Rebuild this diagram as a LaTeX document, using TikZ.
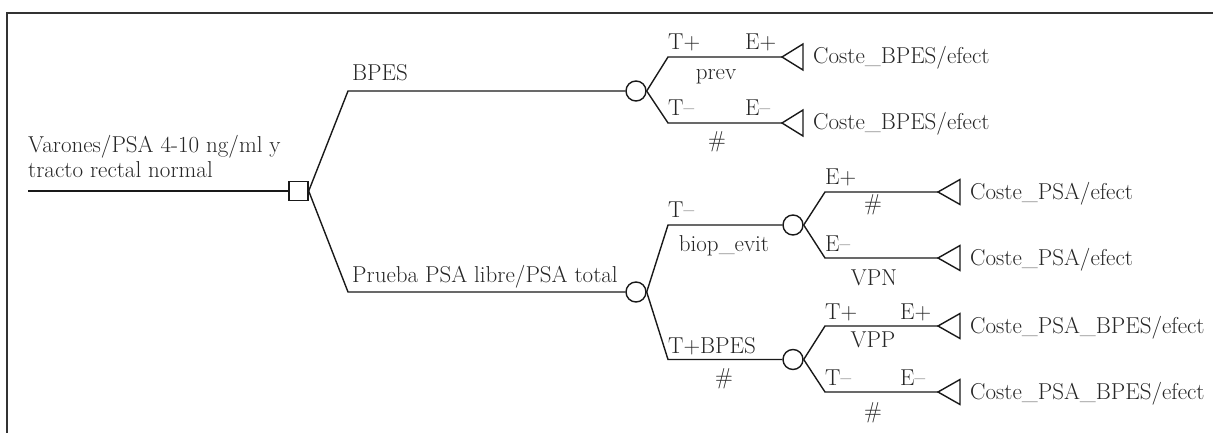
\documentclass[tikz,border=0pt]{standalone}
\begin{document}
\begin{tikzpicture}[x=1pt,y=-1pt,
  every node/.style={font=\fontsize{23}{26}\selectfont, text=black!85, inner sep=0pt},
  edge/.style={line width=1.4pt, black!90, line join=miter},
  chance/.style={circle, draw=black!90, line width=1.4pt, minimum size=20pt, inner sep=0pt},
  decision/.style={rectangle, draw=black!90, line width=1.4pt, minimum size=19pt, inner sep=0pt},
  tri/.style={line width=1.4pt, draw=black!90, line join=miter},
  lbl/.style={anchor=base west},
  clbl/.style={anchor=base}]
\useasboundingbox (0,0) rectangle (1213,433);
\draw[line width=1.4pt, black!80] (7,433) -- (7,13) -- (1213,13);

% root
\coordinate (start) at (28,191);
\node[decision] (d) at (298.5,191) {};
\node[lbl] (root1) at (28,153) {Varones/PSA 4-10 ng/ml y};
\node[lbl] (root2) at (28,178) {tracto rectal normal};
\draw[edge] (start) -- (d.west);

% first level
\coordinate (bA) at (348,91);
\coordinate (bB) at (348,292);
\node[chance] (c1) at (636,91) {};
\node[chance] (c2) at (636,292) {};
\draw[edge] (d.east) -- (bA) -- (c1.west);
\draw[edge] (d.east) -- (bB) -- (c2.west);
\node[lbl] (lBPES) at (352,81) {BPES};
\node[lbl] (lPrueba) at (352,282) {Prueba PSA libre/PSA total};

% BPES chance branches
\coordinate (k1) at (668,57);  \coordinate (t1) at (782,57);
\coordinate (k2) at (668,123); \coordinate (t2) at (782,123);
\draw[edge] (c1.east) -- (k1) -- (t1);
\draw[edge] (c1.east) -- (k2) -- (t2);
\draw[tri] (t1) -- ++(21,-13) -- ++(0,26) -- cycle;
\draw[tri] (t2) -- ++(21,-13) -- ++(0,26) -- cycle;
\node[lbl] (o1) at (813,64) {Coste\_BPES/efect};
\node[lbl] (o2) at (813,130) {Coste\_BPES/efect};
\node[lbl] (a1) at (668,50) {T+};
\node[lbl] (a2) at (745,50) {E+};
\node[clbl] (a3) at (716,80) {prev};
\node[lbl] (a4) at (668,116) {T--};
\node[lbl] (a5) at (745,116) {E--};
\node[clbl] (a6) at (717,148) {\#};

% PSA chance branches
\node[chance] (c3) at (793,225) {};
\node[chance] (c4) at (793,359.5) {};
\coordinate (k3) at (668,225);
\coordinate (k4) at (668,359.5);
\draw[edge] (c2.east) -- (k3) -- (c3.west);
\draw[edge] (c2.east) -- (k4) -- (c4.west);
\node[lbl] (b1) at (668,217) {T--};
\node[clbl] (b2) at (724,251) {biop\_evit};
\node[lbl] (b3) at (668,353) {T+BPES};
\node[clbl] (b4) at (724,384) {\#};

% c3 branches
\coordinate (k5) at (825,192);  \coordinate (t5) at (938,192);
\coordinate (k6) at (825,258);  \coordinate (t6) at (938,258);
\draw[edge] (c3.east) -- (k5) -- (t5);
\draw[edge] (c3.east) -- (k6) -- (t6);
\draw[tri] (t5) -- ++(22,-12.5) -- ++(0,25) -- cycle;
\draw[tri] (t6) -- ++(22,-12.5) -- ++(0,25) -- cycle;
\node[lbl] (o5) at (970,199) {Coste\_PSA/efect};
\node[lbl] (o6) at (970,265) {Coste\_PSA/efect};
\node[lbl] (e1) at (825,185) {E+};
\node[clbl] (e2) at (873,210) {\#};
\node[lbl] (e3) at (825,251) {E--};
\node[clbl] (e4) at (874,285) {VPN};

% c4 branches
\coordinate (k7) at (825,326);  \coordinate (t7) at (938,326);
\coordinate (k8) at (825,392);  \coordinate (t8) at (938,392);
\draw[edge] (c4.east) -- (k7) -- (t7);
\draw[edge] (c4.east) -- (k8) -- (t8);
\draw[tri] (t7) -- ++(22,-12.5) -- ++(0,25) -- cycle;
\draw[tri] (t8) -- ++(22,-12.5) -- ++(0,25) -- cycle;
\node[lbl] (o7) at (970,333) {Coste\_PSA\_BPES/efect};
\node[lbl] (o8) at (970,399) {Coste\_PSA\_BPES/efect};
\node[lbl] (f1) at (825,319) {T+};
\node[lbl] (f2) at (900,319) {E+};
\node[clbl] (f3) at (873,347) {VPP};
\node[lbl] (f4) at (825,385) {T--};
\node[lbl] (f5) at (900,385) {E--};
\node[clbl] (f6) at (873,418) {\#};
\end{tikzpicture}
\end{document}
